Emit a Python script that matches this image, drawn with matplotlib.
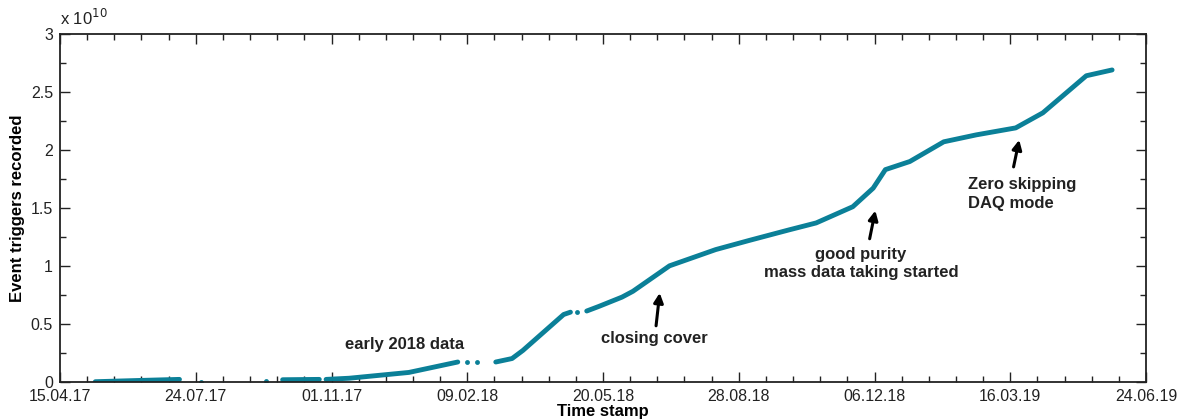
import matplotlib
matplotlib.use('Agg')
import numpy as np
import pandas as pd
import matplotlib.pyplot as plt
import matplotlib.dates as mdates
from matplotlib.ticker import MultipleLocator

plt.rcParams['font.family'] = ['Liberation Sans', 'DejaVu Sans']

# cumulative event triggers (units of 1e10), segments separated by gaps
seg_dates = [
    ['2017-05-11', '2017-06-10', '2017-07-12'],
    ['2017-09-26', '2017-10-23'],
    ['2017-10-28', '2017-11-14', '2017-12-28', '2018-02-02'],
    ['2018-03-02', '2018-03-14', '2018-03-22', '2018-04-21', '2018-04-26'],
    ['2018-05-08', '2018-05-17', '2018-06-03', '2018-06-11', '2018-07-08',
     '2018-08-11', '2018-09-05', '2018-10-04', '2018-10-24', '2018-11-20',
     '2018-12-05', '2018-12-14', '2019-01-01', '2019-01-26', '2019-02-19',
     '2019-03-20', '2019-04-09', '2019-04-23', '2019-05-11', '2019-05-30'],
]
seg_values = [
    [0.0, 0.01, 0.02],
    [0.017, 0.02],
    [0.02, 0.03, 0.08, 0.17],
    [0.17, 0.20, 0.27, 0.58, 0.60],
    [0.61, 0.65, 0.73, 0.78, 1.00,
     1.14, 1.22, 1.31, 1.37, 1.51,
     1.67, 1.83, 1.90, 2.07, 2.13,
     2.19, 2.32, 2.46, 2.64, 2.69],
]
dot_dates = ['2017-07-28', '2017-09-14', '2018-02-09', '2018-02-16', '2018-05-01']
dot_values = [0.0, 0.01, 0.17, 0.17, 0.60]

color = '#0b8098'

fig = plt.figure(figsize=(11.86, 4.19), dpi=100)
ax = fig.add_axes([0.0506, 0.089, 0.9157, 0.8298])

for d, v in zip(seg_dates, seg_values):
    ax.plot(pd.to_datetime(d), np.array(v) * 1e10, color=color, lw=3.5,
            solid_capstyle='round', solid_joinstyle='round')
ax.plot(pd.to_datetime(dot_dates), np.array(dot_values) * 1e10, 'o',
        color=color, ms=3.5, mec='none')

start = pd.Timestamp('2017-04-15')
ax.set_xlim(start, pd.Timestamp('2019-06-24'))
ax.set_ylim(0, 3e10)
major = [start + pd.Timedelta(days=100 * i) for i in range(9)]
minor = [start + pd.Timedelta(days=20 * i) for i in range(41)]
ax.set_xticks(major)
ax.set_xticks(minor, minor=True)
ax.xaxis.set_major_formatter(mdates.DateFormatter('%d.%m.%y'))
ax.yaxis.set_major_locator(MultipleLocator(0.5e10))
ax.yaxis.set_minor_locator(MultipleLocator(0.25e10))
ax.yaxis.set_major_formatter(plt.FuncFormatter(lambda v, p: '%g' % (v / 1e10)))

ax.tick_params(which='both', direction='in', top=True, right=True,
               labelsize=11.5, colors='#222222', width=1.0)
ax.tick_params(which='major', length=7)
ax.tick_params(axis='x', which='major', pad=5)
ax.tick_params(axis='y', which='major', pad=5)
ax.tick_params(which='minor', length=4)
for s in ax.spines.values():
    s.set_linewidth(1.3)
    s.set_color('#222222')

ax.set_ylabel('Event triggers recorded', fontsize=12, fontweight='bold')
ax.yaxis.set_label_coords(-0.032, 0.5)
ax.set_xlabel('Time stamp', fontsize=12, fontweight='bold')
ax.xaxis.set_label_coords(0.5, -0.064)
fig.text(0.0506, 0.94, r'x 10$^{10}$', fontsize=12, color='#222222')

kw = dict(fontsize=12, fontweight='bold', color='#222222')
def date(s):
    return mdates.date2num(pd.Timestamp(s))

ax.text(date('2017-12-25'), 0.32e10, 'early 2018 data', ha='center', va='center', **kw)

arrow = dict(arrowstyle='-|>', color='black', lw=2.2, mutation_scale=14)
ax.annotate('closing cover', xy=(date('2018-07-01'), 0.79e10),
            xytext=(date('2018-06-27'), 0.37e10), ha='center', va='center',
            arrowprops=arrow, **kw)
ax.annotate('', xy=(date('2018-12-07'), 1.50e10),
            xytext=(date('2018-12-02'), 1.21e10), arrowprops=arrow)
ax.text(date('2018-11-26'), 1.02e10, 'good purity\nmass data taking started',
        ha='center', va='center', linespacing=1.25, **kw)
ax.annotate('', xy=(date('2019-03-23'), 2.11e10),
            xytext=(date('2019-03-18'), 1.83e10), arrowprops=arrow)
ax.text(date('2019-02-13'), 1.62e10, 'Zero skipping\nDAQ mode',
        ha='left', va='center', linespacing=1.35, **kw)

fig.savefig('out.png', dpi=100)
